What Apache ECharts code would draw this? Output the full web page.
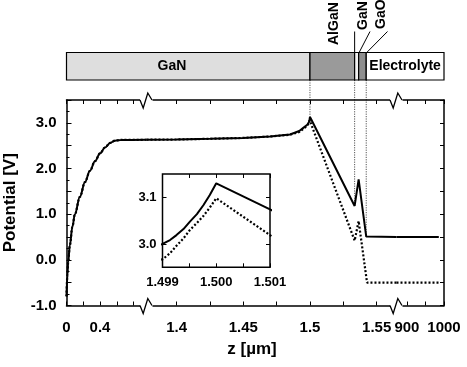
<!DOCTYPE html>
<html><head><meta charset="utf-8">
<script src="https://cdn.jsdelivr.net/npm/echarts@6/dist/echarts.min.js"></script>
<style>html,body{margin:0;padding:0;background:#fff}#c{width:467px;height:367px}</style>
</head><body><div id="c"></div>
<script>
// ---------- data ----------
// segment 1 (0 .. ~0.95 µm), both curves coincide
const zNear = [0, 0.01, 0.02, 0.04, 0.07, 0.1, 0.16, 0.22, 0.28, 0.34, 0.4, 0.46, 0.52, 0.58, 0.65, 0.955];
const vNear = [-0.8, -0.35, -0.05, 0.32, 0.72, 1.0, 1.38, 1.7, 1.95, 2.16, 2.33, 2.46, 2.56, 2.61, 2.625, 2.63];
// segment 2 (1.377 .. 1.565 µm)
const zMidSolid = [1.3774, 1.4, 1.425, 1.45, 1.47, 1.485, 1.492, 1.495, 1.498, 1.499, 1.49914, 1.49926, 1.49939, 1.49951, 1.49964, 1.49976, 1.49988, 1.5, 1.501, 1.5335, 1.5365, 1.5422, 1.5649];
const vMidSolid = [2.63, 2.635, 2.65, 2.67, 2.70, 2.745, 2.82, 2.89, 2.96, 3.0, 3.0085, 3.019, 3.032, 3.048, 3.064, 3.083, 3.105, 3.13, 3.074, 1.18, 1.76, 0.51, 0.5];
const zMidDotted = [1.3774, 1.4, 1.425, 1.45, 1.47, 1.485, 1.492, 1.495, 1.498, 1.499, 1.49914, 1.49926, 1.49939, 1.49951, 1.49964, 1.49976, 1.49988, 1.5, 1.501, 1.5335, 1.5365, 1.5428, 1.5649];
const vMidDotted = [2.63, 2.635, 2.65, 2.67, 2.70, 2.74, 2.80, 2.87, 2.94, 2.967, 2.98, 2.996, 3.012, 3.03, 3.045, 3.06, 3.078, 3.098, 3.019, 0.42, 0.85, -0.5, -0.5];
// segment 3 (electrolyte, up to 1000 µm)
const zFar = [872, 986];
const vFarSolid = [0.5, 0.5];
const vFarDotted = [-0.5, -0.5];

// layer stack (boundaries in µm)
const layerNames = ['GaN', 'AlGaN', 'GaN', 'GaO', 'Electrolyte'];
const layerEdges = [1.5, 1.5335, 1.5365, 1.5422];
const layerColors = ['#dedede', '#9a9a9a', '#f2f2f2', '#8e8e8e', '#ffffff'];

// ticks / labels
const yTicks = [-1, 0, 1, 2, 3];
const xTicksNear = [0, 0.2, 0.4, 0.6, 0.8];
const xLabelsNear = [0, 0.4];
const xTicksMid = [1.4, 1.425, 1.45, 1.475, 1.5, 1.525, 1.55];
const xLabelsMid = [1.4, 1.45, 1.5, 1.55];
const xTicksFar = [900, 950, 1000];
const xLabelsFar = [900, 1000];
const insetXTicks = [1.499, 1.4995, 1.5, 1.5005, 1.501];
const insetXLabels = [1.499, 1.5, 1.501];
const insetYTicks = [3.0, 3.1];

// ---------- chart ----------
const FONT = "'Liberation Sans', Arial, Helvetica, sans-serif";
const pairs = (xs, ys) => xs.map((x, i) => [x, ys[i]]);
const chart = echarts.init(document.getElementById('c'), null, {renderer: 'canvas'});

const TOP = 100, H = 205.5;
const grids = [
  {left: 66.5, top: TOP, width: 80, height: H},
  {left: 146.5, top: TOP, width: 250, height: H},
  {left: 396.5, top: TOP, width: 47.5, height: H},
  {left: 162.5, top: 174, width: 107.5, height: 93.3, show: true, backgroundColor: '#fff', borderColor: '#000', borderWidth: 1.5, z: 5}
];

function xAx(gi, min, max, ticks, labels, pos, opts) {
  opts = opts || {};
  return {
    type: 'value', gridIndex: gi, position: pos, min: min, max: max,
    axisLine: {show: opts.line !== false, onZero: false, lineStyle: {color: '#000', width: 1.5}},
    axisTick: {show: true, inside: true, length: opts.tickLen || 4, customValues: ticks, lineStyle: {color: '#000', width: 1}},
    axisLabel: {show: pos === 'bottom', customValues: labels, margin: opts.margin || 15, color: '#000',
      fontFamily: FONT, fontWeight: 'bold', fontSize: opts.fs || 15, showMinLabel: true, showMaxLabel: true,
      formatter: opts.fmt || (v => String(v))},
    splitLine: {show: false}, z: opts.z || 3
  };
}

const xAxes = [
  xAx(0, 0, 0.955, xTicksNear, xLabelsNear, 'bottom'),
  xAx(0, 0, 0.955, xTicksNear, xLabelsNear, 'top'),
  xAx(1, 1.3774, 1.5649, xTicksMid, xLabelsMid, 'bottom'),
  xAx(1, 1.3774, 1.5649, xTicksMid, xLabelsMid, 'top'),
  xAx(2, 872, 1000, xTicksFar, xLabelsFar, 'bottom'),
  xAx(2, 872, 1000, xTicksFar, xLabelsFar, 'top'),
  xAx(3, 1.499, 1.501, insetXTicks, insetXLabels, 'bottom', {line: false, fs: 13, margin: 9, tickLen: 4, z: 6, fmt: v => v.toFixed(3)}),
  xAx(3, 1.499, 1.501, insetXTicks, insetXLabels, 'top', {line: false, tickLen: 4, z: 6})
];

const mainY = {type: 'value', min: -1, max: 3.5, interval: 0.5, splitLine: {show: false}};
const yAxes = [
  Object.assign({}, mainY, {gridIndex: 0, position: 'left',
    axisLine: {show: true, lineStyle: {color: '#000', width: 1.5}},
    axisTick: {show: true, inside: true, length: 5, lineStyle: {color: '#000', width: 1}},
    minorTick: {show: true, splitNumber: 2, length: 3, lineStyle: {color: '#000', width: 1}},
    axisLabel: {color: '#000', fontFamily: FONT, fontWeight: 'bold', fontSize: 15, margin: 10,
      formatter: v => yTicks.some(t => Math.abs(t - v) < 1e-9) ? v.toFixed(1) : ''}}),
  Object.assign({}, mainY, {gridIndex: 1, show: false}),
  Object.assign({}, mainY, {gridIndex: 2, position: 'right',
    axisLine: {show: true, lineStyle: {color: '#000', width: 1.5}},
    axisTick: {show: true, inside: true, length: 4, lineStyle: {color: '#000', width: 1}},
    axisLabel: {show: false}}),
  {type: 'value', gridIndex: 3, position: 'left', min: 2.95, max: 3.15, splitLine: {show: false},
    axisLine: {show: false},
    axisTick: {show: true, inside: true, length: 4, customValues: insetYTicks, lineStyle: {color: '#000'}},
    axisLabel: {show: true, customValues: insetYTicks, color: '#000', fontFamily: FONT, fontWeight: 'bold', fontSize: 13, margin: 6,
      formatter: v => v.toFixed(1)}, z: 6},
  {type: 'value', gridIndex: 3, position: 'right', min: 2.95, max: 3.15, splitLine: {show: false},
    axisLine: {show: false},
    axisTick: {show: true, inside: true, length: 4, customValues: insetYTicks, lineStyle: {color: '#000'}},
    axisLabel: {show: false}, z: 6}
];

function line(xi, yi, data, dotted, extra) {
  return Object.assign({
    type: 'line', xAxisIndex: xi, yAxisIndex: yi, data: data, symbol: 'none', silent: true,
    lineStyle: dotted ? {color: '#000', width: 2.2, type: [2, 2], cap: 'butt'} : {color: '#000', width: 2},
    z: dotted ? 2 : 3
  }, extra || {});
}

const series = [
  line(0, 0, pairs(zNear, vNear), true, {smooth: 0.35, smoothMonotone: 'x'}),
  line(0, 0, pairs(zNear, vNear), false, {smooth: 0.35, smoothMonotone: 'x'}),
  line(2, 1, pairs(zMidDotted, vMidDotted), true),
  line(2, 1, pairs(zMidSolid, vMidSolid), false),
  line(4, 2, pairs(zFar, vFarDotted), true),
  line(4, 2, pairs(zFar, vFarSolid), false),
  line(6, 3, pairs(zMidDotted, vMidDotted), true, {z: 7}),
  line(6, 3, pairs(zMidSolid, vMidSolid), false, {z: 8})
];

chart.setOption({animation: false, backgroundColor: '#fff', grid: grids, xAxis: xAxes, yAxis: yAxes, series: series});

// ---------- decorations computed from the scales ----------
const px = (gi, x, y) => chart.convertToPixel({gridIndex: gi}, [x, y]);
const gfx = [];
const BAR_T = 52.5, BAR_B = 80;
const left0 = px(0, 0, 0)[0];
const right2 = px(2, 1000, 0)[0];
const edgesPx = layerEdges.map(z => px(1, z, 0)[0]);
const xs = [left0].concat(edgesPx, [right2]);
for (let i = 0; i < layerNames.length; i++) {
  gfx.push({type: 'rect', shape: {x: xs[i], y: BAR_T, width: xs[i + 1] - xs[i], height: BAR_B - BAR_T},
    style: {fill: layerColors[i], stroke: '#000', lineWidth: 1.2}, z: 10});
}
const tStyle = (txt, extra) => Object.assign({text: txt, fill: '#000', font: 'bold 14px ' + FONT}, extra);
gfx.push({type: 'text', x: 172, y: (BAR_T + BAR_B) / 2, style: tStyle('GaN', {align: 'center', verticalAlign: 'middle'}), z: 11});
gfx.push({type: 'text', x: (xs[4] + xs[5]) / 2, y: (BAR_T + BAR_B) / 2, style: tStyle('Electrolyte', {align: 'center', verticalAlign: 'middle'}), z: 11});
// rotated layer labels
gfx.push({type: 'text', x: (xs[1] + xs[2]) / 2 + 1.5, y: 45, rotation: Math.PI / 2, style: tStyle('AlGaN', {align: 'left', verticalAlign: 'middle'}), z: 11});
gfx.push({type: 'text', x: 363, y: 30, rotation: Math.PI / 2, style: tStyle('GaN', {align: 'left', verticalAlign: 'middle'}), z: 11});
gfx.push({type: 'text', x: 381, y: 29, rotation: Math.PI / 2, style: tStyle('GaO', {align: 'left', verticalAlign: 'middle'}), z: 11});
// leader lines
const lead = (x1, y1, x2, y2) => gfx.push({type: 'line', shape: {x1, y1, x2, y2}, style: {stroke: '#000', lineWidth: 1}, z: 11});
lead(edgesPx[1], 31.5, edgesPx[1], BAR_T);
lead(370, 31.5, edgesPx[2] + 0.5, BAR_T);
lead(387.5, 31.5, edgesPx[3] + 0.5, BAR_T);
// dotted guides from the layer boundaries down to the potential curve
const solidAt = z => vMidSolid[zMidSolid.indexOf(z)];
[layerEdges[0], layerEdges[1], layerEdges[3]].forEach(z => {
  const p = px(1, z, solidAt(z));
  gfx.push({type: 'line', shape: {x1: p[0], y1: BAR_B, x2: p[0], y2: p[1]},
    style: {stroke: '#555', lineWidth: 1, lineDash: [1.2, 1.2]}, z: 1});
});
// axis breaks
const yTop = px(0, 0, 3.5)[1], yBot = px(0, 0, -1)[1];
[px(0, 0.955, 0)[0], px(1, 1.5649, 0)[0]].forEach(b => {
  [yTop, yBot].forEach(y => {
    gfx.push({type: 'rect', shape: {x: b - 6.5, y: y - 2.5, width: 12.5, height: 5}, style: {fill: '#fff'}, z: 12});
    gfx.push({type: 'polyline', shape: {points: [[b - 6.5, y], [b - 3.3, y + 8], [b + 1.3, y - 7], [b + 5.5, y]]},
      style: {stroke: '#000', lineWidth: 1.3, fill: null}, z: 13});
  });
});
// axis titles
gfx.push({type: 'text', x: 10, y: (yTop + yBot) / 2, rotation: Math.PI / 2,
  style: tStyle('Potential [V]', {font: 'bold 17px ' + FONT, align: 'center', verticalAlign: 'middle'}), z: 11});
gfx.push({type: 'text', x: 252, y: 349, style: tStyle('z [µm]', {font: 'bold 17px ' + FONT, align: 'center', verticalAlign: 'middle'}), z: 11});

chart.setOption({graphic: gfx});
</script>
</body></html>
